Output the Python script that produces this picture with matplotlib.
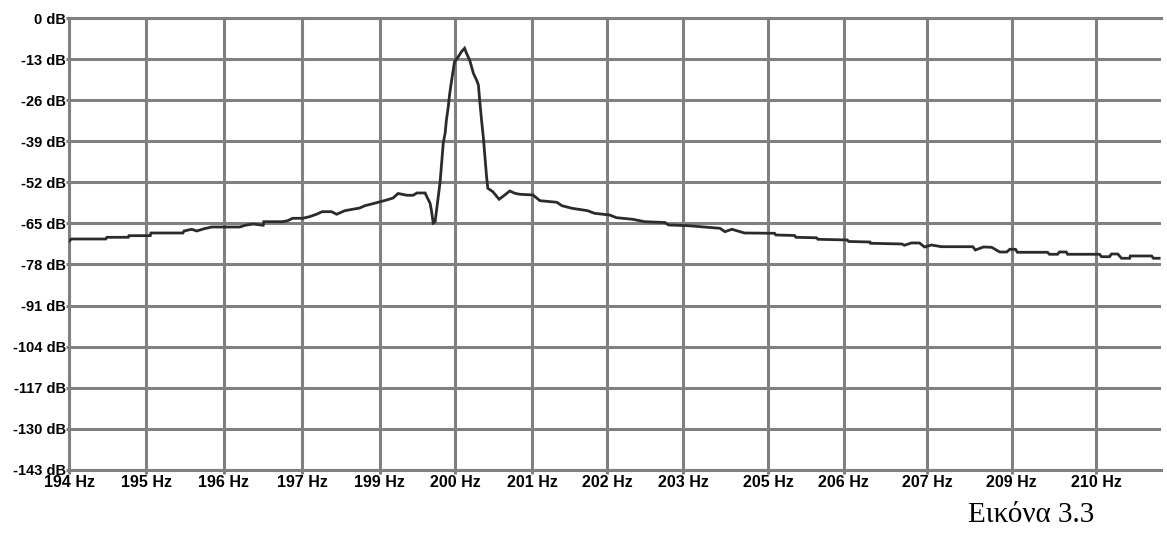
import matplotlib
matplotlib.use("Agg")
import matplotlib.pyplot as plt
from matplotlib import font_manager

# ---- data -------------------------------------------------------------
freq_hz = [
    194.00, 194.03, 194.58, 194.60, 194.94, 194.95, 195.29, 195.30, 195.81, 195.83,
    195.95, 196.03, 196.15, 196.27, 196.72, 196.80, 196.93, 197.09, 197.10, 197.40,
    197.48, 197.56, 197.72, 197.83, 197.95, 198.03, 198.18, 198.26, 198.39, 198.63,
    198.71, 198.84, 198.98, 199.06, 199.16, 199.24, 199.38, 199.48, 199.54, 199.67,
    199.70, 199.75, 199.77, 199.80, 199.83, 199.85, 199.88, 199.91, 199.93, 199.96,
    199.99, 200.01, 200.04, 200.06, 200.09, 200.12, 200.14, 200.20, 200.25, 200.30,
    200.33, 200.38, 200.44, 200.49, 200.52, 200.54, 200.57, 200.60, 200.62, 200.65,
    200.67, 200.75, 200.85, 200.94, 201.02, 201.10, 201.18, 201.39, 201.50, 201.77,
    201.85, 202.01, 202.26, 202.37, 202.61, 202.72, 202.98, 203.17, 203.49, 203.55,
    203.86, 204.37, 204.45, 204.56, 204.76, 205.24, 205.26, 205.56, 205.58, 205.91,
    205.93, 206.40, 206.42, 206.76, 206.77, 207.27, 207.31, 207.42, 207.55, 207.63,
    207.74, 207.90, 208.40, 208.44, 208.57, 208.70, 208.83, 208.94, 208.99, 209.08,
    209.11, 209.59, 209.62, 209.75, 209.78, 209.89, 209.91, 210.42, 210.45, 210.58,
    210.61, 210.71, 210.77, 210.90, 210.91, 211.25, 211.28, 211.37,
]
level_db = [
    -70.55, -69.92, -69.92, -69.38, -69.38, -68.87, -68.87, -68.02, -68.02, -67.38,
    -66.84, -67.38, -66.66, -66.12, -66.12, -65.58, -65.17, -65.58, -64.44, -64.44,
    -64.12, -63.36, -63.36, -62.85, -62.00, -61.27, -61.27, -62.09, -60.95, -60.10,
    -59.37, -58.73, -57.97, -57.56, -56.93, -55.50, -56.07, -56.07, -55.34, -55.34,
    -56.61, -58.61, -60.73, -64.85, -64.44, -61.27, -56.52, -51.77, -47.01, -39.50,
    -36.34, -32.22, -28.01, -24.30, -20.09, -16.38, -13.75, -12.17, -10.58, -9.50,
    -11.09, -13.21, -17.42, -19.55, -21.13, -25.88, -32.22, -38.02, -42.77, -50.18,
    -53.86, -54.93, -57.34, -55.98, -54.71, -55.44, -55.76, -55.98, -57.78, -58.29,
    -59.37, -60.19, -60.95, -61.78, -62.31, -63.17, -63.68, -64.44, -64.69, -65.48,
    -65.70, -66.53, -67.61, -66.84, -68.02, -68.11, -68.65, -68.81, -69.38, -69.54,
    -70.01, -70.23, -70.71, -70.87, -71.28, -71.50, -71.91, -71.18, -71.18, -72.45,
    -71.82, -72.36, -72.36, -73.40, -72.45, -72.55, -74.04, -74.04, -73.18, -73.18,
    -74.13, -74.13, -74.76, -74.76, -74.04, -74.04, -74.76, -74.76, -75.53, -75.53,
    -74.67, -74.67, -76.03, -76.03, -75.30, -75.30, -76.03, -76.03,
]

x_tick_values = [194.00, 195.23, 196.46, 197.71, 198.95, 200.15, 201.38,
                 202.57, 203.78, 205.14, 206.34, 207.67, 209.02, 210.37]
x_tick_labels = ["194 Hz", "195 Hz", "196 Hz", "197 Hz", "199 Hz", "200 Hz", "201 Hz",
                 "202 Hz", "203 Hz", "205 Hz", "206 Hz", "207 Hz", "209 Hz", "210 Hz"]
y_tick_values = [0, -13, -26, -39, -52, -65, -78, -91, -104, -117, -130, -143]
y_tick_labels = [f"{v} dB" for v in y_tick_values]
caption = "Εικόνα 3.3"

# ---- fonts --------------------------------------------------------------
available = {f.name for f in font_manager.fontManager.ttflist}
tick_family = [f for f in ["Liberation Sans Narrow", "Liberation Sans", "DejaVu Sans"] if f in available]
serif_family = [f for f in ["Liberation Serif", "DejaVu Serif"] if f in available]

# ---- figure -------------------------------------------------------------
fig = plt.figure(figsize=(11.67, 5.33), dpi=100)
ax = fig.add_axes([0.0594, 0.1188, 0.9355, 0.8469])

grid_col = "#808080"
ax.plot(freq_hz, level_db, color="#2b2b2b", linewidth=2.0, solid_joinstyle="miter", zorder=3)

ax.set_xlim(194.0, 211.40)
ax.set_ylim(-143, 0)
ax.set_xticks(x_tick_values)
ax.set_xticklabels(x_tick_labels)
ax.set_yticks(y_tick_values)
ax.set_yticklabels(y_tick_labels)

ax.grid(True, color=grid_col, linewidth=2.2, zorder=1)
ax.set_axisbelow(True)
for side in ["left", "bottom", "top"]:
    ax.spines[side].set_color(grid_col)
    ax.spines[side].set_linewidth(2.2)
ax.spines["right"].set_visible(False)

ax.tick_params(axis="x", color=grid_col, width=2.2, length=3, pad=1)
ax.tick_params(axis="y", color=grid_col, width=2.2, length=2, pad=0.5)
for lab in ax.get_xticklabels():
    lab.set_family(tick_family)
    lab.set_fontweight("bold")
    lab.set_fontsize(11.5)
for lab in ax.get_yticklabels():
    lab.set_family(tick_family)
    lab.set_fontweight("bold")
    lab.set_fontsize(10.5)

fig.text(1031 / 1167, 1 - 522 / 533, caption, family=serif_family, fontsize=21,
         ha="center", va="baseline", color="black")

fig.savefig("out.png", dpi=100)
